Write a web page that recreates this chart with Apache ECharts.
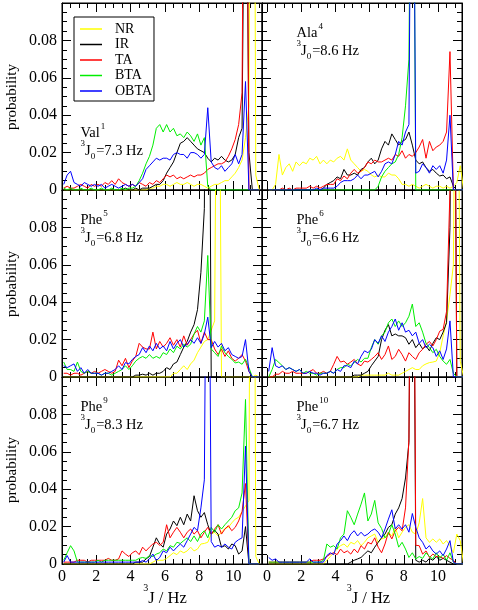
<!DOCTYPE html>
<html>
<head>
<meta charset="utf-8">
<script src="https://cdn.jsdelivr.net/npm/echarts@6/dist/echarts.min.js"></script>
<style>
html,body{margin:0;padding:0;background:#fff}
#chart{width:478px;height:610px}
</style>
</head>
<body>
<div id="chart"></div>
<script>
// bin centres (Hz)
var jBins = [0.1,0.3,0.5,0.7,0.9,1.1,1.3,1.5,1.7,1.9,
  2.1,2.3,2.5,2.7,2.9,3.1,3.3,3.5,3.7,3.9,
  4.1,4.3,4.5,4.7,4.9,5.1,5.3,5.5,5.7,5.9,
  6.1,6.3,6.5,6.7,6.9,7.1,7.3,7.5,7.7,7.9,
  8.1,8.3,8.5,8.7,8.9,9.1,9.3,9.5,9.7,9.9,
  10.1,10.3,10.5,10.7,10.9,11.1,11.3,11.5];

var seriesNames = ['NR','IR','TA','BTA','OBTA'];
var seriesColors = ['#ffff00','#000000','#ff0000','#00ee00','#0000ff'];

// Val1
var val1NR = [0,0,0,0,0,0,0,0,0,0, 0,0,0,0,0,0,0,0,0,0,
  0,0,0,0,0,0.001,0.001,0.002,0.002,0.003,
  0.003,0.002,0.003,0.004,0.003,0.003,0.004,0.003,0.002,0.003,
  0.003,0.002,0.001,0.002,0.003,0.003,0.004,0.005,0.005,0.007,
  0.009,0.012,0.016,0.028,0.045,0.5,0.008,0];
var val1IR = [0,0,0,0,0,0,0,0,0,0, 0,0,0,0,0,0,0,0,0.001,0,
  0,0.001,0,0.001,0.001,0.001,0.002,0.003,0.003,0.005,
  0.009,0.012,0.015,0.02,0.025,0.026,0.028,0.026,0.024,0.022,
  0.021,0.02,0.017,0.015,0.017,0.016,0.018,0.016,0.015,0.016,
  0.019,0.028,0.033,0.25,0.02,0,0,0];
var val1TA = [0.001,0.002,0.001,0.001,0.002,0.003,0.002,0.001,0.003,0.002,
  0.003,0.002,0.004,0.003,0.005,0.003,0.006,0.004,0.003,0.002,
  0.003,0.002,0.004,0.003,0.002,0.004,0.003,0.005,0.004,0.006,
  0.008,0.007,0.008,0.006,0.007,0.006,0.007,0.008,0.007,0.008,
  0.008,0.009,0.011,0.012,0.013,0.014,0.014,0.015,0.018,0.022,
  0.027,0.035,0.052,0.35,0,0,0,0];
var val1BTA = [0.001,0,0.001,0,0,0.001,0,0,0.001,0,
  0,0.001,0,0,0.001,0,0,0.001,0,0.001,
  0.001,0.002,0.005,0.009,0.014,0.018,0.024,0.033,0.035,0.031,
  0.035,0.031,0.033,0.029,0.03,0.028,0.031,0.029,0.026,0.03,
  0.024,0.028,0.002,0,0,0,0,0,0,0,
  0,0,0,0,0,0,0,0];
var val1OBTA = [0.003,0.008,0.01,0.004,0.003,0.002,0.004,0.003,0.002,0.003,
  0.002,0.003,0.001,0.002,0.003,0.002,0.001,0.002,0.003,0.002,
  0.003,0.002,0.004,0.006,0.011,0.013,0.015,0.017,0.016,0.017,
  0.017,0.016,0.019,0.02,0.019,0.019,0.017,0.02,0.02,0.019,
  0.017,0.019,0.044,0.015,0.012,0.011,0.013,0.01,0.012,0.014,
  0.019,0.014,0.019,0.058,0,0,0,0];

// Ala4
var ala4NR = [0,0,0.003,0.019,0.008,0.012,0.014,0.01,0.015,0.013,
  0.015,0.014,0.017,0.016,0.018,0.014,0.016,0.014,0.016,0.015,
  0.017,0.018,0.016,0.022,0.016,0.014,0.012,0.01,0.011,0.01,
  0.008,0.007,0.008,0.007,0.007,0.009,0.008,0.008,0.006,0.003,
  0.003,0.002,0.003,0.002,0.001,0.002,0.003,0.002,0.001,0.002,
  0.002,0.001,0.002,0.001,0.002,0.004,0.013,0];
var ala4IR = [0,0,0,0,0,0,0,0,0,0, 0,0,0,0,0,0,0.001,0.003,0.004,0.005,
  0.007,0.006,0.011,0.008,0.008,0.009,0.008,0.011,0.012,0.015,
  0.017,0.014,0.016,0.022,0.026,0.024,0.03,0.027,0.024,0.026,
  0.027,0.031,0.024,0.016,0.014,0.015,0.012,0.01,0.011,0.009,
  0.0075,0.008,0.006,0.007,0.002,0,0,0];
var ala4TA = [0,0,0,0,0.001,0,0.001,0,0.001,0.001,
  0.001,0.001,0.002,0.001,0.002,0.001,0.002,0.003,0.003,0.003,
  0.006,0.005,0.0075,0.006,0.009,0.011,0.009,0.01,0.012,0.015,
  0.014,0.016,0.015,0.015,0.016,0.017,0.016,0.019,0.018,0.021,
  0.017,0.019,0.018,0.02,0.023,0.027,0.017,0.026,0.021,0.023,
  0.024,0.026,0.031,0.074,0,0,0,0];
var ala4BTA = [0,0,0,0,0,0,0,0,0,0, 0,0,0,0,0,0,0,0,0,0,
  0,0,0,0,0,0,0,0,0,0,
  0,0,0.002,0.007,0.01,0.012,0.014,0.015,0.019,0.028,
  0.045,0.07,0.3,0,0,0,0,0,0,0,
  0,0,0,0,0,0,0,0];
var ala4OBTA = [0,0,0,0,0,0,0,0,0,0, 0,0,0,0,0.001,0,0.001,0.001,0.001,0.001,
  0.002,0.004,0.005,0.005,0.005,0.006,0.008,0.006,0.008,0.008,
  0.009,0.01,0.007,0.01,0.014,0.015,0.014,0.019,0.026,0.024,
  0.031,0.035,0.3,0.009,0.01,0.014,0.012,0.009,0.013,0.011,
  0.013,0.009,0.016,0.04,0,0,0,0];

// Phe5
var phe5NR = [0,0,0,0,0,0,0,0,0,0, 0,0,0,0,0,0,0,0,0,0,
  0,0,0,0,0,0,0,0,0,0,
  0,0,0.002,0.002,0.004,0.006,0.004,0.007,0.009,0.013,
  0.016,0.019,0.02,0.025,0.03,0.3,0,0,0,0,
  0,0,0,0,0,0,0.001,0];
var phe5IR = [0,0,0,0,0,0,0,0,0,0, 0,0,0,0,0,0,0,0,0,0,
  0,0.001,0.001,0.0015,0.001,0.002,0.001,0.002,0.002,0.003,
  0.005,0.004,0.007,0.008,0.012,0.016,0.019,0.024,0.028,0.036,
  0.056,0.09,0.35,0,0,0,0,0,0,0,
  0,0,0,0,0,0,0,0];
var phe5TA = [0.002,0.002,0.001,0.002,0.002,0.001,0.002,0.003,0.002,0.003,
  0.002,0.003,0.004,0.003,0.002,0.003,0.009,0.006,0.01,0.005,
  0.0085,0.011,0.018,0.016,0.015,0.015,0.024,0.015,0.019,0.016,
  0.018,0.021,0.017,0.02,0.016,0.022,0.017,0.02,0.023,0.025,
  0.018,0.024,0.02,0.02,0.015,0.012,0.015,0.011,0.014,0.01,
  0.0085,0.01,0.012,0.0085,0.003,0,0,0];
var phe5BTA = [0.008,0.004,0.004,0.003,0.008,0.003,0.002,0.003,0.002,0.002,
  0.002,0.001,0.002,0.002,0.001,0.002,0.003,0.004,0.006,0.004,
  0.006,0.0085,0.01,0.011,0.01,0.012,0.01,0.011,0.01,0.013,
  0.012,0.015,0.013,0.0165,0.015,0.0175,0.016,0.0175,0.023,0.027,
  0.024,0.03,0.065,0.015,0.013,0.011,0.0165,0.013,0.011,0.0095,
  0.0075,0.008,0.0068,0.0095,0.005,0,0,0];
var phe5OBTA = [0.006,0.005,0.006,0.007,0.003,0.005,0.002,0.004,0.002,0.002,
  0.002,0.001,0.002,0.002,0.003,0.004,0.006,0.004,0.0077,0.007,
  0.0094,0.011,0.012,0.0157,0.013,0.0166,0.014,0.018,0.015,0.0166,
  0.014,0.019,0.015,0.018,0.02,0.016,0.0175,0.02,0.018,0.021,
  0.018,0.023,0.032,0.0157,0.019,0.016,0.018,0.014,0.0157,0.012,
  0.011,0.01,0.011,0.02,0.003,0,0,0];

// Phe6
var phe6NR = [0,0,0,0,0,0,0,0,0,0, 0,0,0,0,0,0,0,0,0,0,
  0,0,0,0,0,0,0,0.001,0.001,0.001,
  0.001,0.001,0.001,0.001,0.001,0.002,0.001,0.001,0.001,0.002,
  0.003,0.004,0.005,0.004,0.004,0.006,0.007,0.0077,0.008,0.0085,
  0.013,0.022,0.03,0.044,0.06,0.3,0.0085,0];
var phe6IR = [0,0,0,0,0,0,0,0,0,0, 0,0,0,0,0,0,0,0,0,0,
  0,0,0,0,0,0.001,0.001,0.001,0.002,0.003,
  0.006,0.0085,0.011,0.02,0.025,0.028,0.022,0.023,0.022,0.022,
  0.021,0.0175,0.02,0.0157,0.018,0.015,0.0166,0.014,0.018,0.021,
  0.02,0.024,0.029,0.08,0.3,0,0,0];
var phe6TA = [0,0,0.0015,0.0015,0.003,0.002,0.002,0.003,0.002,0.002,
  0.002,0.002,0.003,0.004,0.002,0.002,0.003,0.002,0.003,0.0068,
  0.011,0.008,0.0085,0.0068,0.008,0.0094,0.007,0.006,0.0085,0.008,
  0.0094,0.011,0.013,0.0094,0.012,0.0166,0.0094,0.011,0.0148,0.012,
  0.0085,0.013,0.011,0.0094,0.013,0.0148,0.0175,0.019,0.0166,0.02,
  0.0245,0.0255,0.035,0.1,0.3,0,0,0];
var phe6BTA = [0,0.004,0.0094,0.0077,0.006,0.004,0.005,0.004,0.003,0.004,
  0.002,0.003,0.002,0.002,0.001,0.002,0.002,0.002,0.003,0.002,
  0.004,0.005,0.005,0.0068,0.006,0.0077,0.0094,0.008,0.01,0.01,
  0.0157,0.02,0.0175,0.022,0.024,0.029,0.031,0.027,0.03,0.027,
  0.029,0.0325,0.039,0.027,0.029,0.024,0.018,0.0157,0.013,0.0148,
  0.011,0.0085,0.0068,0.0094,0.002,0,0,0];
var phe6OBTA = [0.003,0.0157,0.006,0.005,0.006,0.004,0.005,0.004,0.003,0.004,
  0.002,0.002,0.003,0.002,0.002,0.001,0.002,0.002,0.003,0.002,
  0.004,0.003,0.006,0.006,0.005,0.0085,0.007,0.011,0.014,0.013,
  0.0148,0.02,0.018,0.022,0.019,0.024,0.027,0.031,0.025,0.029,
  0.024,0.025,0.022,0.024,0.018,0.02,0.0157,0.0175,0.0157,0.011,
  0.014,0.0094,0.015,0.03,0,0,0,0];

// Phe9
var phe9NR = [0,0,0,0,0,0,0,0,0,0, 0,0,0,0,0,0,0,0,0,0,
  0,0,0,0,0,0,0.001,0.002,0.002,0.002,
  0.003,0.0045,0.006,0.005,0.007,0.006,0.007,0.009,0.007,0.008,
  0.0107,0.011,0.0116,0.016,0.017,0.015,0.017,0.019,0.0196,0.022,
  0.024,0.025,0.028,0.031,0.034,0.5,0.004,0];
var phe9IR = [0,0,0,0,0,0,0,0,0,0, 0,0,0,0,0,0,0,0,0,0,
  0,0.001,0.001,0.001,0.0027,0.004,0.009,0.014,0.0107,0.009,
  0.016,0.0187,0.023,0.0205,0.025,0.021,0.0267,0.023,0.0365,0.0285,
  0.025,0.0275,0.021,0.016,0.018,0.016,0.009,0.0098,0.008,0.0107,
  0.0098,0.0053,0.007,0.02,0,0,0,0];
var phe9TA = [0.001,0.001,0.001,0.001,0.002,0.002,0.002,0.001,0.002,0.002,
  0.002,0.002,0.002,0.003,0.002,0.002,0.0027,0.007,0.0053,0.004,
  0.006,0.007,0.005,0.009,0.007,0.009,0.0107,0.0116,0.01,0.0116,
  0.021,0.014,0.017,0.0196,0.017,0.014,0.017,0.0187,0.016,0.0178,
  0.014,0.017,0.0196,0.016,0.0187,0.021,0.016,0.0187,0.0205,0.0178,
  0.0196,0.023,0.028,0.043,0,0,0,0];
var phe9BTA = [0.002,0.006,0.0098,0.007,0.001,0.001,0.001,0.001,0.001,0.001,
  0.002,0.001,0.002,0.002,0.002,0.002,0.002,0.002,0.002,0.002,
  0.002,0.002,0.003,0.0035,0.003,0.0045,0.004,0.0053,0.006,0.008,
  0.007,0.0098,0.009,0.0116,0.011,0.0125,0.014,0.012,0.015,0.012,
  0.016,0.0178,0.014,0.0196,0.017,0.021,0.0187,0.021,0.023,0.025,
  0.0285,0.03,0.038,0.088,0,0,0,0];
var phe9OBTA = [0.001,0.0045,0.001,0.001,0.001,0.001,0.001,0.001,0.001,0.001,
  0.001,0.001,0.001,0.001,0.001,0.001,0.001,0.001,0.001,0.001,
  0.001,0.001,0.001,0.0018,0.001,0.0027,0.0053,0.0018,0.0035,0.007,
  0.006,0.009,0.007,0.009,0.0107,0.009,0.0125,0.016,0.0196,0.0178,
  0.03,0.045,0.3,0.012,0.009,0.01,0.009,0.0107,0.009,0.008,
  0.0116,0.013,0.014,0.063,0,0,0,0];

// Phe10
var phe10NR = [0,0,0,0,0,0,0,0,0,0, 0,0,0,0,0,0,0,0.002,0.004,0.006,
  0.008,0.0098,0.0107,0.009,0.0116,0.0107,0.0125,0.0098,0.0116,0.014,
  0.015,0.016,0.0116,0.0134,0.014,0.017,0.015,0.0196,0.014,0.017,
  0.0196,0.021,0.017,0.016,0.022,0.035,0.014,0.0116,0.0134,0.0116,
  0.0134,0.0107,0.0125,0.0098,0.006,0.016,0.0125,0];
var phe10IR = [0,0,0,0,0,0,0,0,0,0, 0,0,0,0,0,0,0,0,0,0,
  0,0,0,0,0.001,0.002,0.0027,0.0035,0.0053,0.007,
  0.006,0.009,0.0116,0.014,0.016,0.0196,0.021,0.0267,0.03,0.035,
  0.046,0.065,0.3,0.002,0.001,0.002,0.001,0.003,0.002,0.004,
  0.002,0.003,0.002,0.001,0,0,0,0];
var phe10TA = [0.001,0.001,0.001,0.001,0.001,0.001,0.001,0.001,0.001,0.001,
  0.001,0.001,0.001,0.002,0.002,0.002,0.0027,0.004,0.0053,0.006,
  0.005,0.008,0.006,0.007,0.0053,0.008,0.006,0.0098,0.008,0.0116,
  0.0107,0.014,0.009,0.006,0.0107,0.017,0.0134,0.0178,0.0196,0.0178,
  0.03,0.067,0.35,0.01,0.0098,0.0053,0.007,0.0035,0.0053,0.004,
  0.004,0.003,0.0045,0.003,0.002,0,0,0];
var phe10BTA = [0.001,0.001,0.001,0.001,0.001,0.001,0.001,0.001,0.001,0.001,
  0.001,0.001,0.001,0.001,0.001,0.001,0.002,0.0107,0.009,0.0098,
  0.008,0.014,0.016,0.0285,0.025,0.021,0.0267,0.032,0.038,0.023,
  0.0267,0.034,0.022,0.019,0.014,0.016,0.021,0.016,0.009,0.0116,
  0.008,0.0035,0.006,0.0027,0.004,0.003,0.006,0.004,0.0027,0.006,
  0.003,0.0053,0.002,0.006,0.001,0,0,0];
var phe10OBTA = [0.0035,0.002,0.0027,0.001,0.001,0.001,0.001,0.001,0.001,0.001,
  0.001,0.001,0.0027,0.001,0.001,0.001,0.001,0.0045,0.006,0.005,
  0.0107,0.0125,0.015,0.0125,0.016,0.0178,0.015,0.017,0.015,0.016,
  0.0178,0.0187,0.017,0.014,0.0187,0.024,0.029,0.0187,0.021,0.0187,
  0.021,0.017,0.027,0.0196,0.014,0.0116,0.008,0.0098,0.007,0.0053,
  0.007,0.0045,0.008,0.0125,0.001,0,0,0];

var panels = [
  {col:0, row:0, nm:'Val', sup:'1', j0:'=7.3 Hz', base:137.5, data:[val1NR,val1IR,val1TA,val1BTA,val1OBTA]},
  {col:1, row:0, nm:'Ala', sup:'4', j0:'=8.6 Hz', base:37.6, data:[ala4NR,ala4IR,ala4TA,ala4BTA,ala4OBTA]},
  {col:0, row:1, nm:'Phe', sup:'5', j0:'=6.8 Hz', base:224.6, data:[phe5NR,phe5IR,phe5TA,phe5BTA,phe5OBTA]},
  {col:1, row:1, nm:'Phe', sup:'6', j0:'=6.6 Hz', base:224.6, data:[phe6NR,phe6IR,phe6TA,phe6BTA,phe6OBTA]},
  {col:0, row:2, nm:'Phe', sup:'9', j0:'=8.3 Hz', base:411.6, data:[phe9NR,phe9IR,phe9TA,phe9BTA,phe9OBTA]},
  {col:1, row:2, nm:'Phe', sup:'10', j0:'=6.7 Hz', base:411.6, data:[phe10NR,phe10IR,phe10TA,phe10BTA,phe10OBTA]}
];

var FONT = '"Liberation Serif", "Times New Roman", serif';
var rowTop = [3, 190, 377], rowH = 187;
var grids = [], xAxes = [], yAxes = [], series = [], graphics = [];

var mctx = document.createElement('canvas').getContext('2d');
function tw(t, s) { mctx.font = s + 'px ' + FONT; return mctx.measureText(t).width; }

function placeParts(x, baseline, parts) {
  var cx = x;
  parts.forEach(function (p) {
    graphics.push({type: 'text', x: cx, y: baseline + (p.dy || 0) - 0.8 * p.s, silent: true,
      style: {text: p.t, font: p.s + 'px ' + FONT, fill: '#000', textAlign: 'left', textVerticalAlign: 'top', align: 'left', verticalAlign: 'top'}});
    cx += tw(p.t, p.s) + (p.gap || 0);
  });
}

var black = {color: '#000', width: 1};

function yAxisFor(gi, pos, lab) {
  yAxes.push({gridIndex: gi, type: 'value', position: pos, min: 0, max: 0.1, interval: 0.02,
    axisLine: {show: true, onZero: false, lineStyle: black},
    axisTick: {show: true, inside: true, length: 9, lineStyle: black},
    minorTick: {show: true, splitNumber: 4, length: 5, lineStyle: black},
    axisLabel: {show: lab, showMaxLabel: false, color: '#000', fontFamily: FONT, fontSize: 16, margin: 5,
      formatter: function (v) { return v === 0 ? '0' : (v > 0.09 ? '' : v.toFixed(2)); }},
    splitLine: {show: false}, minorSplitLine: {show: false}});
  return yAxes.length - 1;
}

function xAxesFor(gi, xmax, lab) {
  var first = xAxes.length;
  ['bottom', 'top'].forEach(function (pos) {
    xAxes.push({gridIndex: gi, type: 'value', position: pos, min: 0, max: xmax, interval: 2,
      axisLine: {show: true, onZero: false, lineStyle: black},
      axisTick: {show: true, inside: true, length: 9, lineStyle: black},
      axisLabel: {show: lab && pos === 'bottom', showMaxLabel: false, color: '#000', fontFamily: FONT, fontSize: 16, margin: 5},
      splitLine: {show: false}});
    xAxes.push({gridIndex: gi, type: 'value', position: pos, min: 0, max: xmax, interval: 0.5,
      axisLine: {show: false, onZero: false},
      axisTick: {show: true, inside: true, length: 5, lineStyle: black},
      axisLabel: {show: false}, splitLine: {show: false}});
  });
  return first;
}

panels.forEach(function (p) {
  var top = rowTop[p.row];
  var lab = p.row === 2;
  var xi, yi;
  if (p.col === 0) {
    grids.push({left: 62, top: top, width: 200, height: rowH, show: true, borderColor: '#000', borderWidth: 1, outerBoundsMode: 'none'});
    var g = grids.length - 1;
    xi = xAxesFor(g, 200 / 17.15, lab);
    yi = yAxisFor(g, 'left', true);
    yAxisFor(g, 'right', false);
  } else {
    // frame grid carries the y axes, data grid starts at J = 0
    grids.push({left: 262, top: top, width: 200, height: rowH, show: true, borderColor: '#000', borderWidth: 1, outerBoundsMode: 'none'});
    var gf = grids.length - 1;
    xAxes.push({gridIndex: gf, type: 'value', min: 0, max: 1, show: false});
    yAxisFor(gf, 'left', false);
    yAxisFor(gf, 'right', false);
    grids.push({left: 267, top: top, width: 195, height: rowH, outerBoundsMode: 'none'});
    var gd = grids.length - 1;
    xi = xAxesFor(gd, 195 / 17.1, lab);
    yAxes.push({gridIndex: gd, type: 'value', min: 0, max: 0.1, show: false});
    yi = yAxes.length - 1;
  }
  p.data.forEach(function (arr, k) {
    series.push({type: 'line', name: seriesNames[k], xAxisIndex: xi, yAxisIndex: yi,
      data: jBins.map(function (j, i) { return [j, arr[i]]; }),
      showSymbol: false, symbol: 'none', clip: true, silent: true, z: 2 + k,
      color: seriesColors[k], itemStyle: {color: seriesColors[k]},
      lineStyle: {width: 1, color: seriesColors[k]}});
  });
  var tx = p.col === 0 ? 80.5 : 296.5;
  placeParts(tx, p.base, [{t: p.nm, s: 14.5, gap: 1}, {t: p.sup, s: 9, dy: -8}]);
  placeParts(tx, p.base + 18, [{t: '3', s: 9, dy: -9}, {t: 'J', s: 14.5}, {t: '0', s: 9, dy: 3.5, gap: 1}, {t: p.j0, s: 14.5}]);
});

[97, 284, 470].forEach(function (cy) {
  graphics.push({type: 'text', x: 12, y: cy, rotation: Math.PI / 2, silent: true,
    style: {text: 'probability', font: '15px ' + FONT, fill: '#000', textAlign: 'center', textVerticalAlign: 'middle', align: 'center', verticalAlign: 'middle'}});
});
[143.3, 346.7].forEach(function (x0) {
  placeParts(x0, 603, [{t: '3', s: 10, dy: -12}, {t: 'J / Hz', s: 16.5}]);
});

var chart = echarts.init(document.getElementById('chart'), null, {renderer: 'canvas'});
chart.setOption({
  animation: false,
  backgroundColor: '#fff',
  grid: grids,
  xAxis: xAxes,
  yAxis: yAxes,
  legend: {
    data: seriesNames, left: 74, top: 17, orient: 'vertical', selectedMode: false,
    icon: 'rect', itemWidth: 22, itemHeight: 1.5, itemGap: 1.5,
    padding: [5, 2, 3, 6], borderColor: '#000', borderWidth: 1, backgroundColor: '#fff',
    textStyle: {fontFamily: FONT, fontSize: 14, color: '#000', lineHeight: 14, padding: [0, 0, 0, 8]}
  },
  series: series,
  graphic: graphics
});
</script>
</body>
</html>
